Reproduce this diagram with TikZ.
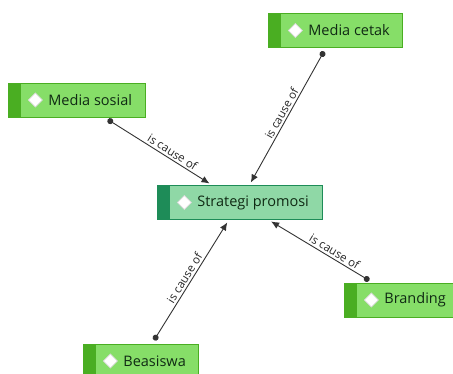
\documentclass[tikz,border=0pt]{standalone}
\usepackage{fontspec}
\setmainfont{Open Sans}
\usetikzlibrary{arrows.meta}
\definecolor{factfill}{HTML}{86DE68}
\definecolor{factdark}{HTML}{4AAE22}
\definecolor{corefill}{HTML}{8FD8A6}
\definecolor{coredark}{HTML}{1E8C58}
\definecolor{inkcol}{HTML}{102A14}
\tikzset{
  pbox/.style 2 args={rectangle, anchor=west, fill=#1, draw=#2, line width=0.8pt,
    minimum height=34pt, inner xsep=0pt, text=inkcol, font=\fontsize{14.5}{17}\selectfont,
    execute at begin node={\hspace*{40pt}}, execute at end node={\hspace*{13pt}},
    path picture={
      \fill[#2] (path picture bounding box.north west) rectangle ([xshift=13pt]path picture bounding box.south west);
      \filldraw[fill=white, draw=black!15] ([xshift=20pt]path picture bounding box.west) -- ++(7pt,7pt) -- ++(7pt,-7pt) -- ++(-7pt,-7pt) -- cycle;}},
  factor/.style={pbox={factfill}{factdark}},
  core/.style={pbox={corefill}{coredark}},
  cause/.style={{Circle[length=6pt]}-{Latex[length=8pt,width=7pt]}, line width=0.9pt, draw=black!80, shorten <=4pt, shorten >=3pt},
  lbl/.style={sloped, above, font=\fontsize{11.5}{13}\selectfont, text=black!85, inner sep=2pt}
}
\begin{document}
\begin{tikzpicture}[x=1pt, y=-1pt]
\useasboundingbox (0,0) rectangle (453,374);
\node[core] (strategi) at (157,202.5) {Strategi promosi};
\node[factor] (msosial) at (8,100) {Media sosial};
\node[factor] (mcetak) at (268,30.5) {Media cetak};
\node[factor] (branding) at (344,300) {Branding};
\node[factor] (beasiswa) at (83,361) {Beasiswa};
\draw[cause] (msosial) -- node[lbl, pos=.6] {is cause of} (strategi);
\draw[cause] (mcetak) -- node[lbl] {is cause of} (strategi);
\draw[cause] (branding) -- node[lbl, pos=.4] {is cause of} (strategi);
\draw[cause] (beasiswa) -- node[lbl] {is cause of} (strategi);
\end{tikzpicture}
\end{document}
